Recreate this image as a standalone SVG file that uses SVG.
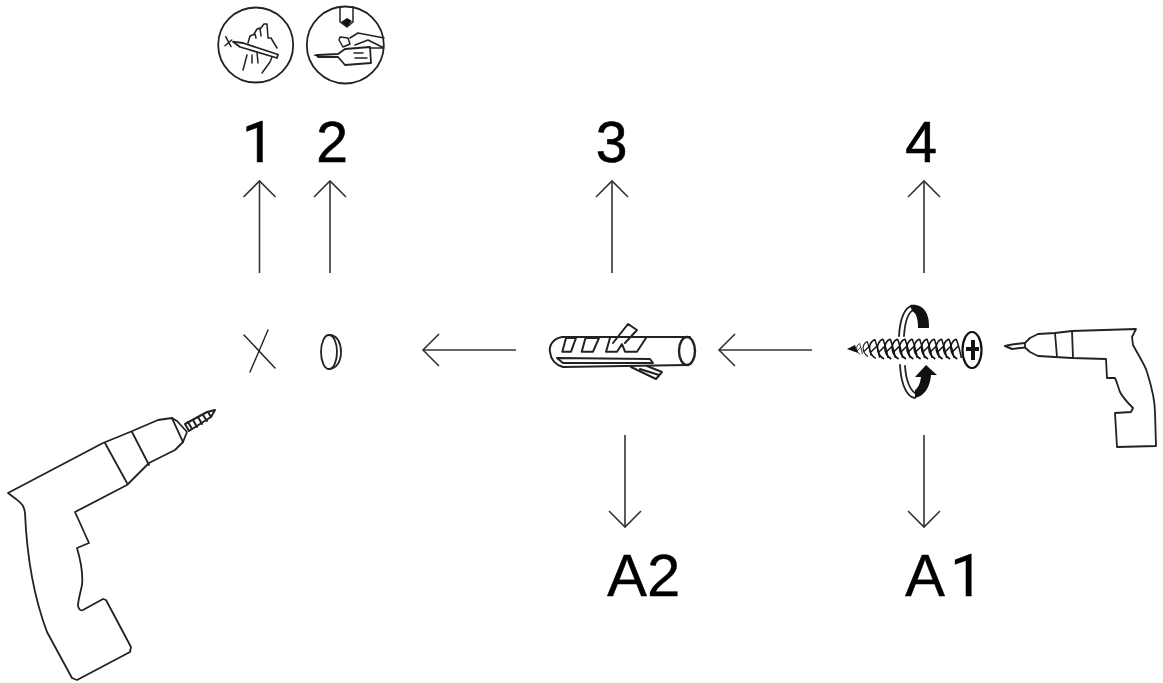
<svg xmlns="http://www.w3.org/2000/svg" xmlns:xlink="http://www.w3.org/1999/xlink" width="1163" height="683" viewBox="0 0 1163 683">
<style>
.l{fill:none;stroke:#222;stroke-width:1.8;stroke-linejoin:round;stroke-linecap:round}
.t{fill:none;stroke:#222;stroke-width:1.5;stroke-linecap:round;stroke-linejoin:round}
.k{fill:#111;stroke:none}
.c{stroke:#333;stroke-width:1.6;fill:none}
.n{font-family:"Liberation Sans",Arial,sans-serif;font-size:57px;fill:#000;stroke:#000;stroke-width:.6;text-anchor:middle}
.a{font-family:"Liberation Sans",Arial,sans-serif;font-size:60px;fill:#000;stroke:#000;stroke-width:.3}
.o{font-family:Roboto,"Liberation Sans",sans-serif}
</style>
<defs>
<marker id="h" markerUnits="userSpaceOnUse" markerWidth="40" markerHeight="40" refX="20" refY="20" orient="auto" overflow="visible">
<path d="M4,4 L20,20 L4,36" fill="none" stroke="#333" stroke-width="1.6"/>
</marker>
<path id="th" d="M3,-10 C-5,-6 -4,5 4,10 M3,-10 C5,-4 7,3 8,9 M-2,4 L5,-3" fill="none" stroke="#111" stroke-width="1.5"/>
</defs>
<rect width="1163" height="683" fill="#fff"/>
<g id="connectors">
<line class="c" x1="259.5" y1="273" x2="259.5" y2="181" marker-end="url(#h)"/>
<line class="c" x1="330" y1="273" x2="330" y2="181" marker-end="url(#h)"/>
<line class="c" x1="612" y1="273" x2="612" y2="181" marker-end="url(#h)"/>
<line class="c" x1="924" y1="273" x2="924" y2="181" marker-end="url(#h)"/>
<line class="c" x1="516" y1="350" x2="423" y2="350" marker-end="url(#h)"/>
<line class="c" x1="812" y1="350" x2="719" y2="350" marker-end="url(#h)"/>
<line class="c" x1="625" y1="435" x2="625" y2="527" marker-end="url(#h)"/>
<line class="c" x1="924" y1="435" x2="924" y2="527" marker-end="url(#h)"/>
</g>
<g id="icon-cut">
<circle class="l" cx="255.7" cy="45" r="37.5"/>
<path class="t" d="M225.7,36.7 L231,46.7 M225,45.7 L231.7,40"/>
<path class="l" d="M233,41.7 L243,43 L278,54.5 L277,58 L247,49 L240,47 Z"/>
<path class="t" d="M248,43 L250,36 L255,34 L256,38 M254,34 L257,29 L260,28 L261,36 M261,28 L264,24 L267,24 L268,38 L271,38 L277,48 M243,70 L247,55 M252,55 L252,63 M257,52 L258,63 M262,73 L270,62 L272,57"/>
</g>
<g id="icon-drill">
<circle class="l" cx="345.3" cy="45" r="38.5"/>
<path class="t" d="M340,7 L340,22 L347,27 L353,22 L353,7"/>
<path class="k" d="M341,22 L347,18 L352,21 L347,27 Z"/>
<path class="l" d="M318,55 L338,54 L345,49 L370,47 L371,63 L345,65 L338,57 L318,57"/>
<path class="k" d="M313,55 L318,54 L318,57 Z"/>
<path class="t" d="M354,53 L363,53 M355,58 L367,58 M339,40 L340,37 L348,38 L350,44 L343,47 Z M350,38 L358,33 L384,38 M355,45 L368,40 L384,48 L370,48"/>
</g>
<text class="n o" x="258" y="162">1</text>
<text class="n" x="332" y="162">2</text>
<text class="n" x="611.5" y="162">3</text>
<text class="n" x="921" y="162">4</text>
<text class="a" x="607" y="596">A2</text>
<text class="a" x="905" y="596">A<tspan class="o" dx="5">1</tspan></text>
<g id="mark-x">
<path class="l" d="M244,335 L275,368 M268,330 L250,372" style="stroke-width:1.4"/>
</g>
<g id="mark-hole">
<ellipse class="l" cx="329" cy="352" rx="8" ry="17"/>
<path class="l" d="M329,335 C338,335 341,344 341,352 C341,362 336,369 329,369"/>
</g>
<g id="dowel">
<path class="l" d="M562,337 L690,337 M563,367 L687,365 M562,337 C552,339 549,346 550,352 C551,361 556,365 563,367" style="stroke-width:2"/>
<ellipse class="l" cx="687" cy="351" rx="8" ry="14" style="stroke-width:2.4"/>
<path class="l" d="M557,358 L650,359 L653,363 L563,363 Z" style="stroke-width:2"/>
<path class="l" d="M566,338 L562.3,351.7 L571,351.7 L576,338 Z M585.5,338 L581.7,351.7 L593,351.7 L599,338 Z M610,338 L606,351.7 L617,351.7 L622,344 L625,351.7 L637,351.7 L646,338 M613,343 L628,324 L637,330 L625,343" style="stroke-width:2"/>
<path class="l" d="M631,367 L656,379 L662,372 L647,366 M640,369 L659,375" style="stroke-width:2"/>
</g>
<g id="screw">
<path class="k" d="M847,349 L855,345 L858,353 Z"/>
<use xlink:href="#th" href="#th" transform="translate(858,349) scale(0.55)"/>
<use xlink:href="#th" href="#th" transform="translate(865,349) scale(0.75)"/>
<use xlink:href="#th" href="#th" transform="translate(872,349) scale(0.95)"/>
<use xlink:href="#th" href="#th" transform="translate(880,349)"/>
<use xlink:href="#th" href="#th" transform="translate(887.3,349)"/>
<use xlink:href="#th" href="#th" transform="translate(894.6,349)"/>
<use xlink:href="#th" href="#th" transform="translate(902,349)"/>
<use xlink:href="#th" href="#th" transform="translate(909.3,349)"/>
<use xlink:href="#th" href="#th" transform="translate(916.6,349)"/>
<use xlink:href="#th" href="#th" transform="translate(924,349)"/>
<use xlink:href="#th" href="#th" transform="translate(931.3,349)"/>
<use xlink:href="#th" href="#th" transform="translate(938.6,349)"/>
<use xlink:href="#th" href="#th" transform="translate(946,349)"/>
<use xlink:href="#th" href="#th" transform="translate(953.3,349)"/>
<ellipse cx="972" cy="350" rx="9.5" ry="18" fill="#fff" stroke="#111" stroke-width="2.2"/>
<path class="k" d="M971,340 L975,340 L975,347 L979,347 L979,351 L975,351 L975,360 L971,360 L971,351 L966,351 L966,347 L971,347 Z"/>
<path class="l" d="M899,336 C900,318 905,307 912,306 M904,336 C905,320 909,311 915,309 M900,365 C901,385 907,397 915,398 M905,366 C906,382 911,392 917,394"/>
<path class="k" d="M910,305 C922,303 930,312 929,328 L918,328 C918,318 916,313 912,311 Z"/>
<path class="k" d="M915,398 C924,396 930,388 931,375 L937,375 L926,365 L915,377 L921,377 C920,384 918,388 915,390 Z"/>
</g>
<g id="drill-right">
<path class="l" d="M1025,343 L1030,338 L1038,334 L1055,333 L1072,331 L1136,329 L1132,337 L1133,345 C1140,358 1145,365 1147,372 C1152,388 1155,400 1155,412 L1156,446 L1117,447 L1115,413 L1131,412 L1133,408 C1127,402 1123,398 1120,392 C1118,387 1117,382 1115,378 L1107,378 L1106,359 L1072,358 L1055,357 L1038,356 L1030,352 L1025,347.5 Z"/>
<path class="l" d="M1055,333 L1057,357 M1072,331 L1073,358"/>
<path class="l" d="M1025,343 L1012,344.5 L1005,346 L1012,349 L1025,347.5" style="stroke-width:2"/>
</g>
<g id="drill-left">
<path class="l" d="M8,493 L103,443 L130,432 L158,420 L172,418 L177,421 L187,432 L183,442 L175,450 L149,463 L127,485 L75,512 L89,543 L77,548 C82,565 83,575 82,585 C80,595 78,600 78,606 C79,610 81,611 83,610 L103,599 L106,600 L131,647 L130,652 L77,680 L72,678 L47,632 C35,600 27,560 25,513 C24,505 21,503 16,499 Z"/>
<path class="l" d="M105,443 L127,483 M132,432 L149,465 M172,418 L183,442"/>
<path class="t" d="M185,424 L207,412 L215,410 L211,417 L189,431 Z" style="stroke-width:2"/>
<path class="t" d="M188,422 L192,429 M193,420 L197,427 M198,417 L202,424 M203,415 L207,421 M208,412 L211,417" style="stroke-width:2"/>
</g>
</svg>
